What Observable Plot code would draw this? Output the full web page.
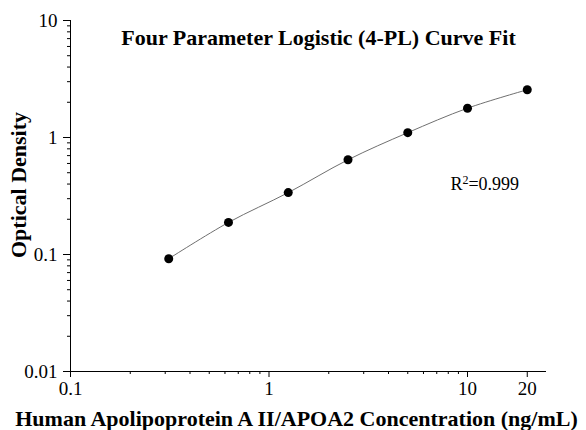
<!DOCTYPE html>
<html>
<head>
<meta charset="utf-8">
<script src="https://cdn.jsdelivr.net/npm/d3@7"></script>
<script src="https://cdn.jsdelivr.net/npm/@observablehq/plot@0.6"></script>
<style>
  html, body { margin: 0; padding: 0; background: #fff; }
  #chart { width: 586px; height: 430px; }
</style>
</head>
<body>
<div id="chart"></div>
<script>
// Data
const concentration = [0.3125, 0.625, 1.25, 2.5, 5, 10, 20];
const opticalDensity = [0.092, 0.188, 0.338, 0.645, 1.10, 1.78, 2.56];

const xMajorTicks = [0.1, 1, 10, 20];
const xMajorLabels = ["0.1", "1", "10", "20"];
const xMinorTicks = [0.2, 0.3, 0.4, 0.5, 0.6, 0.7, 0.8, 0.9, 2, 3, 4, 5, 6, 7, 8, 9];
const yMajorTicks = [0.01, 0.1, 1, 10];
const yMajorLabels = ["0.01", "0.1", "1", "10"];
const yMinorTicks = [0.02, 0.03, 0.04, 0.05, 0.06, 0.07, 0.08, 0.09, 0.2, 0.3, 0.4, 0.5, 0.6, 0.7, 0.8, 0.9, 2, 3, 4, 5, 6, 7, 8, 9];

const titleText = "Four Parameter Logistic (4-PL) Curve Fit";
const xLabelText = "Human Apolipoprotein A II/APOA2 Concentration (ng/mL)";
const yLabelText = "Optical Density";
const r2Text = ["R2=0.999"];
const r2Pos = {x: 8.2, y: 0.40};

const points = concentration.map((c, i) => ({c, od: opticalDensity[i]}));
const fmt = (ticks, labels) => (d) => labels[ticks.indexOf(d)] ?? "";

const serif = "'Liberation Serif', 'Times New Roman', serif";

const chart = Plot.plot({
  width: 586,
  height: 430,
  marginLeft: 70,
  marginRight: 40,
  marginTop: 20,
  marginBottom: 59,
  style: {fontFamily: serif, fontSize: "17px", color: "#000", background: "#fff"},
  x: {type: "log", domain: [0.1, 25]},
  y: {type: "log", domain: [0.01, 10]},
  marks: [
    Plot.axisX({ticks: xMinorTicks, tickSize: 3, tickFormat: () => "", label: null}),
    Plot.axisX({ticks: xMajorTicks, tickSize: 6, tickPadding: 4, tickFormat: fmt(xMajorTicks, xMajorLabels), label: null, fontSize: 19}),
    Plot.axisY({ticks: yMinorTicks, tickSize: 3, tickFormat: () => "", label: null}),
    Plot.axisY({ticks: yMajorTicks, tickSize: 7, tickPadding: 6, tickFormat: fmt(yMajorTicks, yMajorLabels), label: null, fontSize: 19}),
    Plot.ruleY([0.01], {stroke: "#000", strokeWidth: 1}),
    Plot.ruleX([0.1], {stroke: "#000", strokeWidth: 1}),
    Plot.line(points, {x: "c", y: "od", curve: "catmull-rom", stroke: "#707070", strokeWidth: 1}),
    Plot.dot(points, {x: "c", y: "od", r: 4.5, fill: "#000", stroke: "none"}),
    Plot.text(r2Text, {x: () => r2Pos.x, y: () => r2Pos.y, text: d => d, textAnchor: "start", fontSize: 18, fill: "#000", className: "r2"}),
    Plot.text([titleText], {frameAnchor: "top", lineAnchor: "middle", dx: 10, dy: 17, text: d => d, fontWeight: "bold", fontSize: 22, fill: "#000"}),
    Plot.text([xLabelText], {frameAnchor: "bottom", lineAnchor: "middle", dx: -12, dy: 47, text: d => d, fontWeight: "bold", fontSize: 22, fill: "#000"}),
    Plot.text([yLabelText], {frameAnchor: "left", textAnchor: "middle", lineAnchor: "middle", dx: -52, dy: -11, rotate: -90, text: d => d, fontWeight: "bold", fontSize: 22, fill: "#000"})
  ]
});
document.getElementById("chart").appendChild(chart);

// Render the R² annotation with a true superscript
d3.select(chart).selectAll("g.r2 text").each(function () {
  const t = d3.select(this);
  const s = t.text();
  t.text(null);
  t.append("tspan").text(s.slice(0, 1));
  t.append("tspan").attr("font-size", "12px").attr("dy", "-0.5em").text(s.slice(1, 2));
  t.append("tspan").attr("dy", "0.33em").text(s.slice(2));
});
</script>
</body>
</html>
